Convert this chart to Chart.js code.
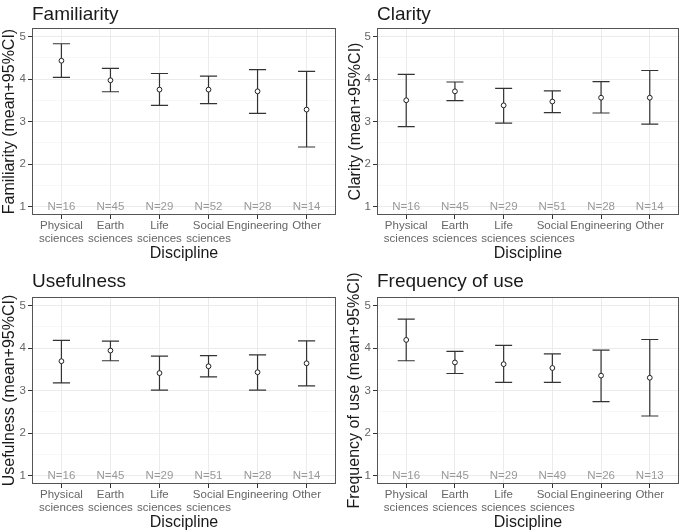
<!DOCTYPE html>
<html>
<head>
<meta charset="utf-8">
<script src="https://cdn.jsdelivr.net/npm/chart.js@4.4.1/dist/chart.umd.min.js"></script>
<style>
body { margin: 0; background: #fff; }
#wrap { position: relative; width: 685px; height: 531px; }
canvas { position: absolute; }
</style>
</head>
<body>
<div id="wrap">
  <canvas id="c1" width="342" height="265" style="left:0;top:0"></canvas>
  <canvas id="c2" width="343" height="265" style="left:342px;top:0"></canvas>
  <canvas id="c3" width="342" height="266" style="left:0;top:265px"></canvas>
  <canvas id="c4" width="343" height="266" style="left:342px;top:265px"></canvas>
</div>
<script>
/* data */
var categories = [['Physical', 'sciences'], ['Earth', 'sciences'], ['Life', 'sciences'], ['Social', 'sciences'], 'Engineering', 'Other'];
var yTickLabels = [1, 2, 3, 4, 5];
var yMinorGrid = [1.5, 2.5, 3.5, 4.5];

var familiarityMean  = [4.43, 3.97, 3.75, 3.75, 3.71, 3.28];
var familiarityLower = [4.04, 3.70, 3.38, 3.42, 3.19, 2.40];
var familiarityUpper = [4.83, 4.25, 4.13, 4.07, 4.22, 4.18];
var familiarityN     = [16, 45, 29, 52, 28, 14];

var clarityMean  = [3.50, 3.71, 3.38, 3.47, 3.56, 3.56];
var clarityLower = [2.88, 3.49, 2.96, 3.21, 3.20, 2.94];
var clarityUpper = [4.11, 3.93, 3.78, 3.72, 3.94, 4.20];
var clarityN     = [16, 45, 29, 51, 28, 14];

var usefulnessMean  = [3.69, 3.94, 3.41, 3.57, 3.43, 3.64];
var usefulnessLower = [3.18, 3.70, 3.01, 3.32, 3.01, 3.11];
var usefulnessUpper = [4.18, 4.16, 3.81, 3.82, 3.84, 4.17];
var usefulnessN     = [16, 45, 29, 51, 28, 14];

var frequencyMean  = [4.19, 3.66, 3.62, 3.53, 3.35, 3.30];
var frequencyLower = [3.70, 3.40, 3.19, 3.19, 2.74, 2.40];
var frequencyUpper = [4.68, 3.92, 4.06, 3.86, 3.95, 4.20];
var frequencyN     = [16, 45, 29, 49, 26, 13];

var FONT = '"Liberation Sans", Arial, sans-serif';
var capWidth = 0.35; // error bar cap width in category units

/* draws error bars, N labels, panel border and panel title */
const panelPlugin = {
    id: 'panel',
    beforeDatasetsDraw(chart, args, opts) {
        const { ctx, scales: { x, y } } = chart;
        ctx.save();
        // N labels sit on the y=1 line
        ctx.fillStyle = '#999';
        ctx.font = '11.5px ' + FONT;
        ctx.textAlign = 'center';
        ctx.textBaseline = 'middle';
        opts.n.forEach((n, i) => {
            ctx.fillText('N=' + n, x.getPixelForValue(i + 1), y.getPixelForValue(1));
        });
        // error bars
        ctx.strokeStyle = '#333';
        ctx.lineWidth = 1.2;
        const half = x.getPixelForValue(1 + capWidth / 2) - x.getPixelForValue(1);
        opts.lower.forEach((lo, i) => {
            const px = x.getPixelForValue(i + 1);
            const yLo = y.getPixelForValue(lo);
            const yHi = y.getPixelForValue(opts.upper[i]);
            ctx.beginPath();
            ctx.moveTo(px, yLo); ctx.lineTo(px, yHi);
            ctx.moveTo(px - half, yLo); ctx.lineTo(px + half, yLo);
            ctx.moveTo(px - half, yHi); ctx.lineTo(px + half, yHi);
            ctx.stroke();
        });
        ctx.restore();
    },
    afterDraw(chart, args, opts) {
        const { ctx, chartArea: a } = chart;
        ctx.save();
        ctx.strokeStyle = '#555';
        ctx.lineWidth = 1;
        ctx.strokeRect(a.left + 0.5, a.top + 0.5, a.width - 1, a.height - 1);
        ctx.fillStyle = '#1a1a1a';
        ctx.font = '19px ' + FONT;
        ctx.textAlign = 'left';
        ctx.textBaseline = 'alphabetic';
        ctx.fillText(opts.title, a.left, opts.titleY);
        ctx.restore();
    }
};

function makePanel(id, title, yTitle, mean, lower, upper, n, box) {
    new Chart(document.getElementById(id), {
        type: 'scatter',
        data: {
            datasets: [{
                data: mean.map((m, i) => ({ x: i + 1, y: m })),
                pointRadius: 2.4,
                pointBackgroundColor: '#fff',
                pointBorderColor: '#222',
                pointBorderWidth: 1
            }]
        },
        options: {
            responsive: false,
            animation: false,
            layout: { padding: { top: box.top, right: box.right, left: 0, bottom: 0 } },
            plugins: {
                legend: { display: false },
                tooltip: { enabled: false },
                panel: { title: title, titleY: box.titleY, lower: lower, upper: upper, n: n }
            },
            scales: {
                x: {
                    type: 'linear',
                    min: 0.4,
                    max: 6.6,
                    afterBuildTicks: s => { s.ticks = categories.map((c, i) => ({ value: i + 1 })); },
                    afterFit: s => { s.height = box.xAxisH; },
                    ticks: {
                        autoSkip: false, maxRotation: 0, padding: 0.5,
                        color: '#666',
                        font: { family: FONT, size: 11.5, lineHeight: 1.13 },
                        callback: v => categories[v - 1]
                    },
                    grid: { color: '#ebebeb', lineWidth: 1, tickLength: 4, tickColor: '#333' },
                    border: { display: false },
                    title: {
                        display: true, text: 'Discipline', color: '#1a1a1a',
                        font: { family: FONT, size: 16, lineHeight: 1 },
                        padding: { top: 0, bottom: box.xTitlePad }
                    }
                },
                y: {
                    min: 0.8,
                    max: 5.2,
                    afterBuildTicks: s => {
                        s.ticks = yTickLabels.concat(yMinorGrid).sort((a, b) => a - b).map(v => ({ value: v }));
                    },
                    afterFit: s => { s.width = box.left; },
                    ticks: {
                        padding: 2,
                        color: '#666',
                        font: { family: FONT, size: 11.5 },
                        callback: v => (yTickLabels.includes(v) ? String(v) : '')
                    },
                    grid: {
                        color: c => (c.tick && yTickLabels.includes(c.tick.value)) ? '#ebebeb' : '#f2f2f2',
                        lineWidth: c => (c.tick && yTickLabels.includes(c.tick.value)) ? 1 : 0.6,
                        tickLength: 4,
                        tickColor: c => (c.tick && yTickLabels.includes(c.tick.value)) ? '#333' : 'rgba(0,0,0,0)'
                    },
                    border: { display: false },
                    title: {
                        display: true, text: yTitle, color: '#1a1a1a',
                        font: { family: FONT, size: 16, lineHeight: 1 },
                        padding: { top: box.yTitlePad, bottom: 0 }
                    }
                }
            }
        },
        plugins: [panelPlugin]
    });
}

makePanel('c1', 'Familiarity', 'Familiarity (mean+95%CI)', familiarityMean, familiarityLower, familiarityUpper, familiarityN,
    { top: 28, right: 6, left: 32, xAxisH: 50, titleY: 19.5, xTitlePad: 3, yTitlePad: 2 });
makePanel('c2', 'Clarity', 'Clarity (mean+95%CI)', clarityMean, clarityLower, clarityUpper, clarityN,
    { top: 28, right: 6, left: 35, xAxisH: 50, titleY: 19.5, xTitlePad: 3, yTitlePad: 5.5 });
makePanel('c3', 'Usefulness', 'Usefulness (mean+95%CI)', usefulnessMean, usefulnessLower, usefulnessUpper, usefulnessN,
    { top: 32, right: 6, left: 32, xAxisH: 47, titleY: 22, xTitlePad: 0.5, yTitlePad: 2 });
makePanel('c4', 'Frequency of use', 'Frequency of use (mean+95%CI)', frequencyMean, frequencyLower, frequencyUpper, frequencyN,
    { top: 32, right: 6, left: 35, xAxisH: 47, titleY: 22.3, xTitlePad: 0.5, yTitlePad: 4.5 });
</script>
</body>
</html>
